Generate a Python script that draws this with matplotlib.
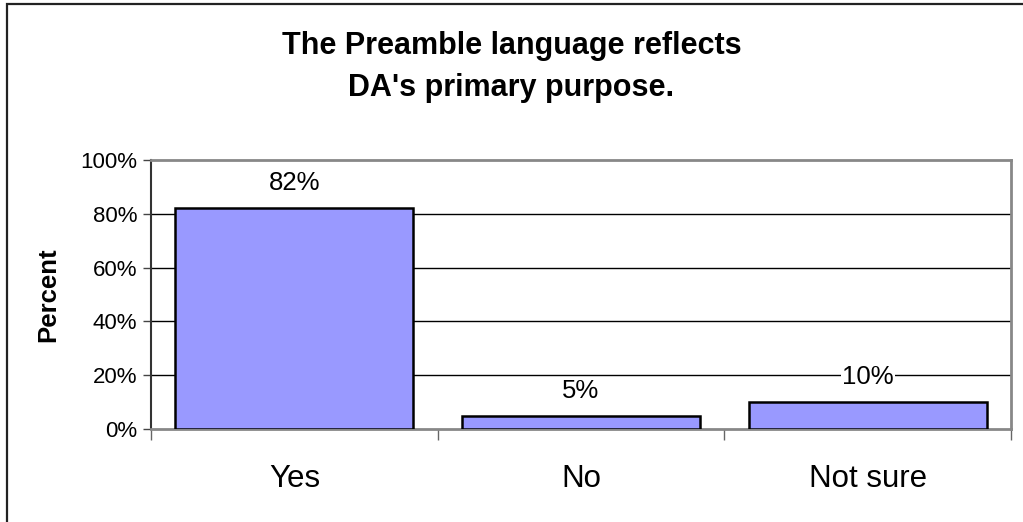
import matplotlib.pyplot as plt
from matplotlib.patches import Rectangle

plt.rcParams['font.family'] = ['Liberation Sans', 'DejaVu Sans']

categories = ['Yes', 'No', 'Not sure']
percent = [82, 5, 10]
yticks = [0, 20, 40, 60, 80, 100]
ytick_labels = ['0%', '20%', '40%', '60%', '80%', '100%']

fig = plt.figure(figsize=(10.23, 5.22), dpi=100)
ax = fig.add_axes([151 / 1023, 1 - 429 / 522, 860 / 1023, 269 / 522])

# outer chart border (runs off the right and bottom of the image)
fig.patches.append(Rectangle((7 / 1023, -0.1), 1.2, 1 - 4 / 522 + 0.1,
                             transform=fig.transFigure, fill=False,
                             edgecolor='#222222', linewidth=1.6))

x = list(range(len(categories)))
ax.bar(x, percent, width=0.83, color='#9999FF', edgecolor='black',
       linewidth=1.8, zorder=3)

for xi, v in zip(x, percent):
    ax.annotate(f'{v}%', (xi, v), xytext=(0, 18), textcoords='offset points',
                ha='center', va='center', fontsize=18.5,
                bbox=dict(facecolor='white', edgecolor='none', pad=1),
                zorder=4)

ax.set_xlim(-0.5, 2.5)
ax.set_ylim(0, 100)
ax.set_yticks(yticks)
ax.set_yticklabels(ytick_labels, fontsize=16)
for y in yticks[1:-1]:
    ax.axhline(y, color='black', linewidth=1, zorder=1)

# category ticks at the boundaries, labels in the middle
ax.set_xticks([-0.5, 0.5, 1.5, 2.5])
ax.set_xticklabels([])
ax.set_xticks(x, minor=True)
ax.set_xticklabels(categories, minor=True, fontsize=22.5)
ax.tick_params(axis='x', which='minor', length=0, pad=25)
ax.tick_params(axis='x', which='major', length=8, color='#666666', width=1)
ax.tick_params(axis='y', length=6, color='#444444', width=1, pad=4)

for side in ['top', 'right', 'bottom']:
    ax.spines[side].set_color('#888888')
    ax.spines[side].set_linewidth(2)
ax.spines['left'].set_color('#333333')
ax.spines['left'].set_linewidth(1.5)

ax.set_ylabel('Percent', fontsize=18.5, fontweight='bold', labelpad=14)

fig.text(0.5, 1 - 67 / 522, "The Preamble language reflects\nDA's primary purpose.",
         ha='center', va='center', fontsize=22, fontweight='bold',
         linespacing=1.55)

fig.savefig('out.png', dpi=100)
